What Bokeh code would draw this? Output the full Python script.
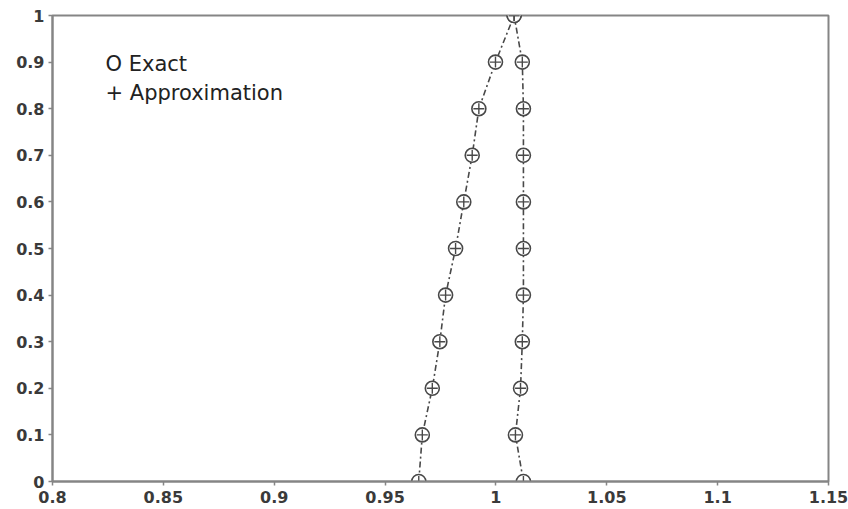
from bokeh.plotting import figure
from bokeh.models import FixedTicker, Label, Range1d
from bokeh.embed import file_html
from bokeh.resources import INLINE

# membership levels
alpha = [0.0, 0.1, 0.2, 0.3, 0.4, 0.5, 0.6, 0.7, 0.8, 0.9, 1.0]
# left branch (increasing) and right branch values
exact_left = [0.9652, 0.9668, 0.9713, 0.9747, 0.9773, 0.9818, 0.9855, 0.9893, 0.9923, 0.9998, 1.0082]
exact_right = [1.0124, 1.0088, 1.0111, 1.0119, 1.0124, 1.0124, 1.0124, 1.0124, 1.0124, 1.0119, 1.0082]
approx_left = list(exact_left)
approx_right = list(exact_right)

x_ticks = [0.8, 0.85, 0.9, 0.95, 1.0, 1.05, 1.1, 1.15]
x_tick_labels = ["0.8", "0.85", "0.9", "0.95", "1", "1.05", "1.1", "1.15"]
y_ticks = alpha
y_tick_labels = ["0", "0.1", "0.2", "0.3", "0.4", "0.5", "0.6", "0.7", "0.8", "0.9", "1"]

GREY = "#858585"
DARK = "#484848"
TICK_FONT = "DejaVu Sans"
TEXT_FONT = "DejaVu Sans"

p = figure(width=848, height=509, output_backend="svg", toolbar_location=None,
           x_range=Range1d(0.8, 1.15), y_range=Range1d(0, 1),
           min_border_left=52, min_border_right=20, min_border_top=15, min_border_bottom=28)
p.grid.visible = False
p.outline_line_color = GREY
p.outline_line_width = 2
p.background_fill_color = "white"

# line path: left branch upward, then right branch downward
line_x = exact_left + exact_right[::-1][1:]
line_y = alpha + alpha[::-1][1:]
p.line(line_x, line_y, line_color=DARK, line_width=1.6, line_dash="6 3 2 3")

ex = exact_left + exact_right
ey = alpha + alpha
ax = approx_left + approx_right
p.scatter(ex, ey, marker="circle", size=14, line_color=DARK, line_width=1.6, fill_color="white")
p.scatter(ax, ey, marker="cross", size=11, line_color=DARK, line_width=1.4)

for axis in (p.xaxis[0], p.yaxis[0]):
    axis.axis_line_color = GREY
    axis.axis_line_width = 2
    axis.major_tick_line_color = GREY
    axis.major_tick_line_width = 1.5
    axis.major_tick_in = 0
    axis.minor_tick_line_color = None
    axis.major_label_text_font = TICK_FONT
    axis.major_label_text_font_style = "bold"
    axis.major_label_text_font_size = "16px"
    axis.major_label_text_color = "#3a3a3a"

p.xaxis[0].ticker = FixedTicker(ticks=x_ticks)
p.xaxis[0].major_label_overrides = {t: l for t, l in zip(x_ticks, x_tick_labels)}
p.xaxis[0].major_tick_out = 4
p.xaxis[0].major_label_standoff = 5
p.yaxis[0].ticker = FixedTicker(ticks=y_ticks)
p.yaxis[0].major_label_overrides = {t: l for t, l in zip(y_ticks, y_tick_labels)}
p.yaxis[0].major_tick_out = 4
p.yaxis[0].major_label_standoff = 4

p.add_layout(Label(x=53, y=418, x_units="screen", y_units="screen", text="O Exact",
                   text_font=TEXT_FONT, text_font_size="21px", text_color="#222222",
                   text_baseline="alphabetic"))
p.add_layout(Label(x=53, y=389, x_units="screen", y_units="screen", text="+ Approximation",
                   text_font=TEXT_FONT, text_font_size="21px", text_color="#222222",
                   text_baseline="alphabetic"))

open("out.html", "w").write(file_html(p, INLINE))
